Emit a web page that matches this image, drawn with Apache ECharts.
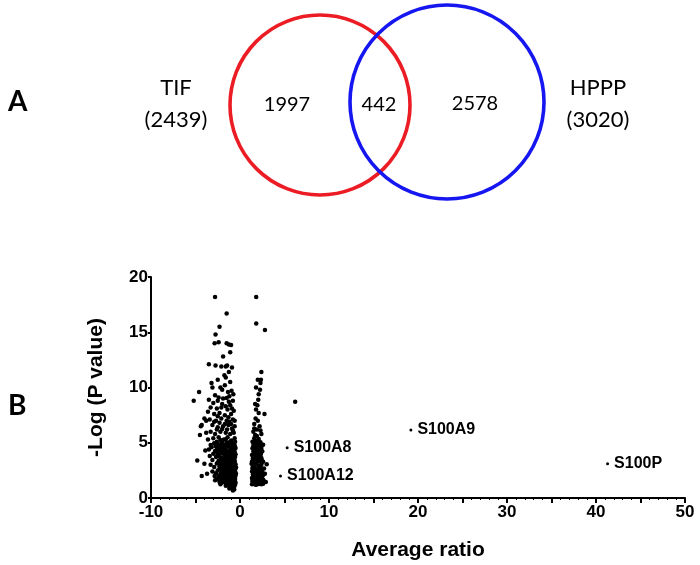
<!DOCTYPE html>
<html>
<head>
<meta charset="utf-8">
<script src="https://cdn.jsdelivr.net/npm/echarts@6/dist/echarts.min.js"></script>
<style>html,body{margin:0;padding:0;background:#fff;}#chart{width:700px;height:565px;}</style>
</head>
<body>
<div id="chart"></div>
<script>
// ---------- Panel A: Venn data ----------
const vennSets = ['TIF', 'HPPP'];
const vennSetTotals = [2439, 3020];
const vennRegionCounts = [1997, 442, 2578]; // TIF only, shared, HPPP only

// ---------- Panel B: volcano data (x = average ratio, y = -log P) ----------
const xTicks = [-10, 0, 10, 20, 30, 40, 50];
const yTicks = [0, 5, 10, 15, 20];

const downUpper = [
  [-2.8,18.2],[-1.5,16.7],[-2.3,15.5],[-2.75,14.8],[-2.85,14.0],[-2.4,14.1],[-1.5,14.0],[-1.25,13.9],[-1.0,13.85],
  [-1.9,12.8],[-3.5,12.1],[-2.75,12.0],[-2.1,11.9],[-1.6,11.9],[-1.45,12.0],[-1.75,11.1],[-1.6,10.9],[-3.2,10.4],
  [-3.1,10.0],[-2.2,10.0],[-1.7,10.2],[-0.95,9.7],[-4.6,9.6],[-5.2,8.8],[-3.5,8.9],[-2.8,9.3],[-2.4,9.1],[-1.9,9.0],
  [-1.5,9.05],[-1.2,9.2],[-3.0,8.6],[-2.0,8.5],[-1.1,8.4],[-0.8,8.8],[-3.3,8.2],[-2.6,8.1],[-1.4,8.0],[-0.9,8.1],
  [-3.6,7.8],[-2.9,7.6],[-2.3,7.7],[-1.7,7.5],[-1.0,7.6],[-0.7,7.9],[-4.0,7.2],[-3.8,7.0],[-4.3,6.6],[-3.4,7.1],
  [-2.7,7.0],[-2.1,7.2],[-1.5,7.0],[-1.2,6.9],[-0.8,7.1],[-4.4,6.5],[-3.1,6.6],[-2.5,6.4],[-1.9,6.5],[-1.3,6.6],
  [-0.9,6.3],[-0.6,6.5],[-4.5,5.7],[-3.3,6.0],[-2.8,5.8],[-2.2,6.0],[-1.6,5.9],[-1.1,5.8],[-0.7,5.9],[-3.0,5.4],
  [-2.4,5.5],[-1.8,5.3],[-1.4,5.5],[-1.0,5.2],[-0.6,5.4],[-2.6,5.1],[-2.0,5.0],[-1.5,5.0],[-0.8,5.0],
  [-2.9,6.9],[-2.3,6.8],[-1.7,6.7],[-1.0,6.7],[-2.6,6.2],[-2.0,6.25],[-1.45,6.2],[-0.8,6.1],[-3.6,5.3],[-2.2,5.25],
  [-1.6,5.3],[-1.2,5.05],[-0.55,5.1],[-3.8,5.9],[-2.5,7.4],[-1.3,7.3],[-0.6,7.0],[-2.1,8.2],[-1.6,8.3],[-1.25,8.7],
  [-2.5,8.8],[-0.75,9.4],[-1.35,9.6],[-2.0,9.8],[-1.1,10.5],[-2.5,10.7],[-1.25,11.4],[-0.9,11.8],[-1.1,13.2]
];
const downLower = [
  [-2.9,4.95],[-2.4,4.85],[-2.1,4.9],[-1.7,4.8],[-1.3,4.92],[-0.9,4.86],[-0.6,4.78],
  [-3.2,4.6],[-2.6,4.55],[-2.2,4.65],[-1.9,4.5],[-1.5,4.62],[-1.1,4.57],[-0.8,4.66],[-0.5,4.52],
  [-3.9,4.3],[-2.8,4.25],[-2.3,4.35],[-2.0,4.22],[-1.6,4.31],[-1.2,4.28],[-0.9,4.36],[-0.6,4.2],
  [-3.0,4.0],[-2.5,3.95],[-2.1,4.05],[-1.8,3.98],[-1.4,4.02],[-1.0,3.93],[-0.7,4.07],[-0.5,3.97],
  [-2.7,3.7],[-2.3,3.75],[-1.9,3.66],[-1.6,3.72],[-1.3,3.68],[-1.1,3.77],[-0.8,3.64],[-0.55,3.71],
  [-4.8,3.4],[-3.1,3.45],[-2.4,3.38],[-2.0,3.42],[-1.7,3.35],[-1.4,3.47],[-1.2,3.36],[-0.9,3.44],[-0.6,3.39],
  [-4.0,3.1],[-2.6,3.12],[-2.2,3.05],[-1.9,3.15],[-1.6,3.08],[-1.3,3.13],[-1.0,3.04],[-0.75,3.11],[-0.5,3.06],
  [-2.9,2.8],[-2.3,2.85],[-2.0,2.77],[-1.75,2.83],[-1.5,2.79],[-1.2,2.86],[-0.95,2.75],[-0.7,2.82],[-0.45,2.78],
  [-2.5,2.5],[-2.1,2.55],[-1.85,2.48],[-1.6,2.53],[-1.35,2.46],[-1.1,2.56],[-0.85,2.49],[-0.6,2.54],
  [-3.7,2.2],[-2.7,2.25],[-2.2,2.18],[-1.9,2.24],[-1.65,2.16],[-1.4,2.23],[-1.15,2.17],[-0.9,2.26],[-0.65,2.19],[-0.45,2.22],
  [-4.3,2.0],[-2.4,1.97],[-2.0,2.03],[-1.75,1.95],[-1.5,2.02],[-1.25,1.96],[-1.0,2.04],[-0.75,1.98],[-0.5,2.01],
  [-2.6,1.7],[-2.1,1.74],[-1.8,1.66],[-1.55,1.72],[-1.3,1.68],[-1.05,1.75],[-0.8,1.67],[-0.55,1.73],
  [-2.0,1.4],[-1.7,1.44],[-1.45,1.37],[-1.2,1.43],[-0.95,1.38],[-0.7,1.45],[-0.5,1.41],
  [-1.6,1.1],[-1.35,1.14],[-1.1,1.08],[-0.85,1.13],[-0.6,1.1],
  [-1.2,0.85],[-0.9,0.88],[-0.7,0.83],[-0.8,0.68],
  [-2.45,4.45],[-1.85,4.15],[-1.45,3.85],[-0.95,3.55],[-2.25,3.25],[-1.55,2.95],[-1.05,2.65],[-1.95,2.35],
  [-1.35,2.1],[-0.65,1.85],[-1.9,1.55],[-1.15,1.25],[-0.75,0.98],[-0.6,3.25],[-0.5,2.65],[-1.75,4.4],
  [-2.75,4.7],[-2.05,4.72],[-1.35,4.75],[-0.7,4.4],[-2.55,4.1],[-1.65,4.05],[-1.15,4.12],[-0.85,3.85],
  [-2.15,3.55],[-1.75,3.52],[-1.25,3.58],[-0.7,3.52],[-2.5,3.2],[-1.8,3.22],[-1.15,3.24],[-0.6,2.95],
  [-2.15,2.95],[-1.35,2.97],[-0.85,3.0],[-2.3,2.62],[-1.7,2.68],[-1.25,2.7],[-0.7,2.65],[-2.05,2.38],
  [-1.5,2.35],[-0.95,2.4],[-0.55,2.35],[-1.8,2.1],[-1.1,2.12],[-0.6,2.08],[-2.3,1.85],[-1.65,1.86],
  [-1.2,1.88],[-0.9,1.84],[-1.6,1.55],[-1.35,1.55],[-0.85,1.55],[-0.6,1.58],[-1.45,1.25],[-1.0,1.22],
  [-0.55,1.25],[-0.95,1.0],[-0.65,0.78],[-3.3,4.8],[-3.5,4.4],[-3.4,3.8],[-3.3,3.0],[-3.1,2.4],
  [-2.85,2.0],[-2.8,1.6],[-2.3,1.45],[-2.2,1.25]
];
const upCluster = [
  [1.82,18.2],[1.82,15.8],[2.8,15.2],[2.4,11.4],[2.35,10.7],[2.3,10.4],[1.8,10.0],[2.1,9.4],[2.05,8.9],[1.7,8.5],
  [1.95,8.4],[2.75,7.6],[1.75,7.2],[2.0,7.0],[1.6,6.7],[2.2,6.5],[1.9,6.2],[1.5,6.0],[2.4,5.8],[1.7,5.7],
  [1.6,5.4],[2.1,5.35],[1.4,5.1],[1.8,5.15],[2.3,5.05],[1.5,4.8],[1.9,4.85],[2.2,4.75],[2.6,4.82],
  [1.4,4.5],[1.7,4.55],[2.0,4.45],[2.4,4.52],[1.5,4.2],[1.8,4.25],[2.1,4.15],[2.5,4.22],
  [1.35,3.9],[1.65,3.95],[1.95,3.85],[2.3,3.92],[1.45,3.6],[1.75,3.65],[2.05,3.55],[2.4,3.62],
  [1.35,3.3],[1.6,3.35],[1.9,3.25],[2.2,3.32],[2.6,3.28],[1.5,3.0],[1.8,3.05],[2.1,2.95],[2.4,3.02],[3.0,3.05],
  [1.4,2.7],[1.65,2.75],[1.95,2.65],[2.25,2.72],[2.7,2.68],[1.35,2.4],[1.6,2.45],[1.85,2.35],[2.15,2.42],[2.5,2.38],
  [1.45,2.1],[1.75,2.15],[2.0,2.05],[2.3,2.12],[2.6,2.08],[1.35,1.8],[1.6,1.85],[1.9,1.75],[2.2,1.82],[2.5,1.78],
  [1.4,1.5],[1.7,1.55],[2.0,1.45],[2.3,1.52],[2.9,1.45],[1.35,1.25],[1.6,1.28],[1.85,1.22],[2.1,1.27],[2.4,1.24],
  [1.55,4.65],[2.0,3.75],[1.7,3.15],[2.15,2.55],[1.55,1.95],[1.95,1.35],[2.35,4.0],[1.45,2.85],
  [1.55,5.0],[2.05,4.95],[1.8,4.65],[2.25,4.35],[1.6,4.05],[2.0,4.1],[1.85,3.45],[1.5,3.4],[2.45,3.45],[1.3,3.1],
  [2.25,2.85],[1.8,2.5],[2.4,2.6],[1.5,2.3],[2.1,2.25],[1.85,2.0],[1.4,1.65],[2.05,1.65],[2.65,1.6],[1.5,1.35],
  [2.2,1.4],[1.75,1.2],[2.6,1.3],[2.8,2.2],[1.6,6.3],[2.3,6.1],[1.9,5.6],[2.1,7.7],[1.8,8.0],[2.25,9.8],[2.0,10.7]
];
const otherPoints = [[6.2,8.7]];
const geneNames = ['S100A8', 'S100A12', 'S100A9', 'S100P'];
const geneRatio = [5.3, 4.55, 19.2, 41.3];
const geneLogP = [4.55, 2.0, 6.15, 3.1];

// ---------- Layout (positions / styles, not data) ----------
const vennCircleLayout = [
  { cx: 320, cy: 105, r: 90, color: '#ec1c24' },
  { cx: 447, cy: 102, r: 97, color: '#1616f0' }
];
const vennSetLabelPos = [[176, 104], [598, 104]];
const vennRegionPos = [[287, 105], [379, 105], [475, 104]];

const allPoints = downUpper.concat(downLower, upCluster, otherPoints);
const geneData = geneNames.map((n, i) => ({ name: n, value: [geneRatio[i], geneLogP[i]] }));

const vennTextData = [];
vennSets.forEach((s, i) => {
  vennTextData.push({ value: vennSetLabelPos[i], text: s + '\n(' + vennSetTotals[i] + ')', big: true });
});
vennRegionCounts.forEach((c, i) => {
  vennTextData.push({ value: vennRegionPos[i], text: String(c), big: false });
});

const axisFont = 'Liberation Sans, Arial, sans-serif';
const vennFont = 'Lato, Open Sans, sans-serif';

const chart = echarts.init(document.getElementById('chart'), null, { renderer: 'canvas' });
chart.setOption({
  animation: false,
  backgroundColor: '#ffffff',
  grid: [
    { left: 151, right: 15, top: 277, bottom: 67, containLabel: false },
    { left: 0, top: 0, width: 700, height: 210 }
  ],
  xAxis: [
    {
      gridIndex: 0, type: 'value', min: -10, max: 50, interval: 5,
      name: 'Average ratio', nameLocation: 'middle', nameGap: 42,
      nameTextStyle: { fontFamily: axisFont, fontWeight: 'bold', fontSize: 21, color: '#000' },
      axisLine: { show: true, onZero: false, lineStyle: { color: '#000', width: 2 } },
      axisTick: { show: true, length: 5, lineStyle: { color: '#000', width: 2 } },
      minorTick: { show: true, splitNumber: 5, length: 2, lineStyle: { color: '#000', width: 1 } },
      splitLine: { show: false },
      axisLabel: {
        margin: 6, fontFamily: axisFont, fontWeight: 'bold', fontSize: 17, color: '#000',
        formatter: v => (xTicks.indexOf(v) >= 0 ? String(v) : '')
      }
    },
    { gridIndex: 1, type: 'value', min: 0, max: 700, show: false }
  ],
  yAxis: [
    {
      gridIndex: 0, type: 'value', min: 0, max: 20, interval: 5,
      name: '-Log (P value)', nameLocation: 'middle', nameGap: 44, nameRotate: 90,
      nameTextStyle: { fontFamily: axisFont, fontWeight: 'bold', fontSize: 21, color: '#000' },
      axisLine: { show: true, onZero: false, lineStyle: { color: '#000', width: 2 } },
      axisTick: { show: true, length: 3, lineStyle: { color: '#000', width: 2 } },
      splitLine: { show: false },
      axisLabel: {
        margin: 3, fontFamily: axisFont, fontWeight: 'bold', fontSize: 17, color: '#000',
        formatter: v => (yTicks.indexOf(v) >= 0 ? String(v) : '')
      }
    },
    { gridIndex: 1, type: 'value', min: 0, max: 210, inverse: true, show: false }
  ],
  graphic: [
    { type: 'text', left: 8, top: 88, style: { text: 'A', fontFamily: vennFont, fontWeight: 'bold', fontSize: 28, fill: '#000' } },
    { type: 'text', left: 8, top: 392, style: { text: 'B', fontFamily: vennFont, fontWeight: 'bold', fontSize: 28, fill: '#000' } }
  ],
  series: [
    {
      type: 'scatter', xAxisIndex: 0, yAxisIndex: 0, data: allPoints,
      symbol: 'circle', symbolSize: 4.5, itemStyle: { color: '#000', opacity: 1 }, silent: true
    },
    {
      type: 'scatter', xAxisIndex: 0, yAxisIndex: 0, data: geneData,
      symbol: 'circle', symbolSize: 3, itemStyle: { color: '#000', opacity: 1 }, silent: true,
      label: {
        show: true, position: 'right', distance: 5, formatter: p => p.name,
        fontFamily: axisFont, fontWeight: 'bold', fontSize: 16, color: '#000',
        textBorderWidth: 0, opacity: 1
      }
    },
    {
      type: 'custom', xAxisIndex: 1, yAxisIndex: 1, coordinateSystem: 'cartesian2d', silent: true,
      data: vennCircleLayout.map(c => [c.cx, c.cy, c.r]),
      renderItem: (params, api) => {
        const c = vennCircleLayout[params.dataIndex];
        const p = api.coord([api.value(0), api.value(1)]);
        const r = api.size([api.value(2), 0])[0];
        return { type: 'circle', shape: { cx: p[0], cy: p[1], r: r }, style: { fill: 'none', stroke: c.color, lineWidth: 3.6 } };
      }
    },
    {
      type: 'custom', xAxisIndex: 1, yAxisIndex: 1, coordinateSystem: 'cartesian2d', silent: true,
      data: vennTextData.map(d => d.value),
      renderItem: (params, api) => {
        const d = vennTextData[params.dataIndex];
        const p = api.coord([api.value(0), api.value(1)]);
        return {
          type: 'text', x: p[0], y: p[1],
          style: {
            text: d.text, fontFamily: vennFont, fontSize: d.big ? 22 : 20, lineHeight: d.big ? 32 : 22,
            fill: '#000', align: 'center', verticalAlign: 'middle'
          }
        };
      }
    }
  ]
});
</script>
</body>
</html>
